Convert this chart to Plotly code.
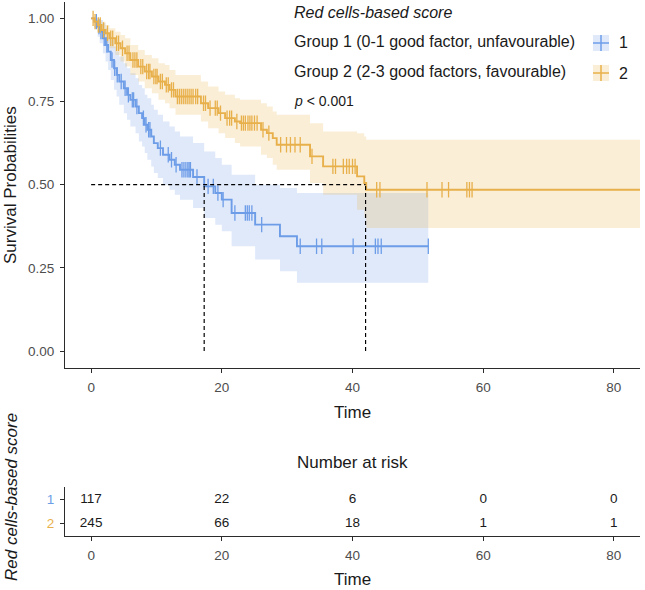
import numpy as np
import plotly.graph_objects as go

# ---------------- data ----------------
# Group 1 (blue) KM step function
g1_time = [0, 0.5, 1.0, 1.3, 1.8, 2.2, 2.6, 3.0, 3.5, 3.9, 4.3, 5.0, 5.5, 6.0, 6.8, 7.3, 7.8, 8.2, 8.6,
           9.2, 9.6, 10.2, 11.0, 12.0, 12.8, 13.6, 15.6, 17.3, 19.0, 20.0, 21.5, 25.1, 28.9, 31.5, 51.6]
g1_surv = [1.0, 0.99, 0.975, 0.96, 0.94, 0.92, 0.90, 0.875, 0.85, 0.83, 0.81, 0.79, 0.77, 0.755, 0.735,
           0.715, 0.70, 0.68, 0.665, 0.645, 0.625, 0.61, 0.59, 0.575, 0.56, 0.545, 0.523, 0.495, 0.475,
           0.455, 0.415, 0.38, 0.345, 0.315, 0.315]
g1_lower = [1.0, 0.97, 0.945, 0.925, 0.895, 0.87, 0.845, 0.815, 0.785, 0.765, 0.74, 0.715, 0.695, 0.675,
            0.655, 0.63, 0.615, 0.595, 0.575, 0.555, 0.535, 0.52, 0.50, 0.485, 0.47, 0.455, 0.43, 0.40,
            0.38, 0.36, 0.315, 0.275, 0.24, 0.205, 0.205]
g1_upper = [1.0, 1.0, 1.0, 0.995, 0.985, 0.97, 0.955, 0.935, 0.915, 0.90, 0.885, 0.865, 0.85, 0.835,
            0.82, 0.80, 0.79, 0.77, 0.76, 0.74, 0.725, 0.71, 0.69, 0.675, 0.66, 0.645, 0.625, 0.60, 0.58,
            0.56, 0.53, 0.50, 0.49, 0.475, 0.475]
g1_censor = [0.8, 1.2, 1.5, 2.0, 2.4, 3.2, 3.6, 4.0, 4.6, 5.2, 5.7, 6.3, 6.5, 7.0, 8.0, 8.4, 8.8, 9.0,
             10.6, 11.8, 12.3, 13.0, 13.9, 14.2, 14.5, 14.8, 15.0, 15.2, 16.2, 17.9, 18.7, 19.4, 20.2,
             22.0, 23.6, 23.9, 24.2, 24.6, 26.1, 32.0, 34.5, 35.3, 40.1, 43.5, 43.9, 44.4, 51.6]

# Group 2 (orange) KM step function
g2_time = [0, 0.5, 1.0, 1.6, 2.2, 2.8, 3.7, 4.5, 5.2, 6.0, 7.2, 8.2, 9.3, 10.3, 11.3, 12.0, 12.9, 16.8,
           17.9, 19.5, 20.5, 22.0, 22.8, 26.0, 26.9, 27.8, 28.4, 33.5, 35.5, 40.7, 41.8, 42.1, 84.0]
g2_surv = [1.0, 0.99, 0.98, 0.965, 0.955, 0.94, 0.925, 0.91, 0.895, 0.875, 0.855, 0.84, 0.825, 0.81,
           0.80, 0.785, 0.765, 0.745, 0.73, 0.715, 0.70, 0.69, 0.685, 0.665, 0.655, 0.64, 0.62, 0.585,
           0.555, 0.525, 0.505, 0.485, 0.485]
g2_lower = [1.0, 0.975, 0.96, 0.94, 0.925, 0.91, 0.89, 0.87, 0.855, 0.83, 0.81, 0.79, 0.775, 0.755,
            0.745, 0.73, 0.71, 0.69, 0.67, 0.655, 0.64, 0.625, 0.615, 0.59, 0.58, 0.56, 0.545, 0.505,
            0.47, 0.425, 0.40, 0.37, 0.37]
g2_upper = [1.0, 1.0, 0.995, 0.99, 0.98, 0.97, 0.96, 0.95, 0.94, 0.92, 0.905, 0.89, 0.88, 0.865, 0.86,
            0.845, 0.83, 0.81, 0.795, 0.78, 0.77, 0.76, 0.755, 0.745, 0.735, 0.72, 0.71, 0.685, 0.66,
            0.655, 0.645, 0.635, 0.635]
g2_censor = [0.3, 0.6, 1.1, 1.4, 1.9, 2.5, 3.0, 3.3, 3.9, 4.2, 4.8, 5.5, 5.8, 6.4, 6.7, 7.0, 7.6, 7.9,
             8.5, 8.8, 9.0, 9.6, 9.9, 10.1, 10.6, 10.9, 11.5, 11.8, 12.3, 12.6, 13.2, 13.5, 13.8, 14.1,
             14.4, 14.7, 15.0, 15.3, 15.6, 16.0, 16.3, 17.2, 17.5, 18.2, 19.0, 19.3, 19.8, 20.8, 21.2,
             21.5, 22.3, 23.0, 23.3, 23.6, 24.0, 24.3, 24.6, 25.0, 25.4, 26.3, 27.2, 29.0, 29.9, 30.5,
             31.2, 32.0, 33.8, 37.0, 37.4, 38.6, 39.1, 39.5, 40.0, 40.4, 43.7, 44.2, 51.4, 53.7, 54.7,
             57.5, 57.9, 58.3]

median_times = [17.3, 42.0]
median_level = 0.5

risk_times = [0, 20, 40, 60, 80]
risk_g1 = [117, 22, 6, 0, 0]
risk_g2 = [245, 66, 18, 1, 1]

group_labels = ["1", "2"]
group_desc = ["Group 1 (0-1 good factor, unfavourable)", "Group 2 (2-3 good factors, favourable)"]
legend_title = "Red cells-based score"
p_text = "<i>p</i> < 0.001"
x_ticks = [0, 20, 40, 60, 80]
y_ticks = [0, 0.25, 0.5, 0.75, 1.0]

# ---------------- style ----------------
BLUE = "#6E9DE8"
ORANGE = "#E8B04B"
BLUE_FILL = "rgba(110,157,232,0.22)"
ORANGE_FILL = "rgba(232,176,75,0.22)"
FONT = "Liberation Sans"
W, H = 645, 590


def px_x(p):
    return p / W


def px_y(p):
    return 1 - p / H


fig = go.Figure()


def add_band(times, lo, hi, fill):
    fig.add_trace(go.Scatter(x=times, y=lo, mode="lines", line=dict(width=0, shape="hv"),
                             hoverinfo="skip", showlegend=False, xaxis="x", yaxis="y"))
    fig.add_trace(go.Scatter(x=times, y=hi, mode="lines", line=dict(width=0, shape="hv"),
                             fill="tonexty", fillcolor=fill, hoverinfo="skip",
                             showlegend=False, xaxis="x", yaxis="y"))


def add_line(times, surv, cens, color, name):
    fig.add_trace(go.Scatter(x=times, y=surv, mode="lines", line=dict(color=color, width=1.9, shape="hv"),
                             name=name, showlegend=False, xaxis="x", yaxis="y"))
    t = np.array(times)
    s = np.array(surv)
    idx = np.searchsorted(t, np.array(cens), side="right") - 1
    fig.add_trace(go.Scatter(x=cens, y=s[idx], mode="markers",
                             marker=dict(symbol="line-ns-open", size=11, color=color,
                                         line=dict(color=color, width=1.3)),
                             showlegend=False, hoverinfo="skip", xaxis="x", yaxis="y"))


add_band(g1_time, g1_lower, g1_upper, BLUE_FILL)
add_band(g2_time, g2_lower, g2_upper, ORANGE_FILL)
add_line(g1_time, g1_surv, g1_censor, BLUE, "1")
add_line(g2_time, g2_surv, g2_censor, ORANGE, "2")

# median dashed lines
fig.add_trace(go.Scatter(x=[0, max(median_times)], y=[median_level, median_level], mode="lines",
                         line=dict(color="black", width=1.2, dash="4px,3px"), showlegend=False,
                         hoverinfo="skip", xaxis="x", yaxis="y"))
for mt in median_times:
    fig.add_trace(go.Scatter(x=[mt, mt], y=[0, median_level], mode="lines",
                             line=dict(color="black", width=1.2, dash="4px,3px"), showlegend=False,
                             hoverinfo="skip", xaxis="x", yaxis="y"))

# risk table
for gi, counts in enumerate([risk_g1, risk_g2]):
    fig.add_trace(go.Scatter(x=risk_times, y=[gi + 1] * len(risk_times), mode="text",
                             text=[str(c) for c in counts],
                             textfont=dict(family=FONT, size=13.5, color="#1a1a1a"),
                             showlegend=False, hoverinfo="skip", xaxis="x2", yaxis="y2"))

axis_common = dict(showline=True, linecolor="#2b2b2b", linewidth=1, ticks="outside", ticklen=4,
                   tickwidth=1, tickcolor="#2b2b2b", showgrid=False, zeroline=False,
                   ticklabelstandoff=3,
                   tickfont=dict(family=FONT, size=13.5, color="#4d4d4d"))

fig.update_layout(
    width=W, height=H,
    margin=dict(l=0, r=0, t=0, b=0, autoexpand=False),
    plot_bgcolor="white", paper_bgcolor="white",
    showlegend=False,
    xaxis=dict(domain=[px_x(65), px_x(640)], range=[-4, 84], tickvals=x_ticks,
               anchor="y", **axis_common),
    yaxis=dict(domain=[px_y(367.7), px_y(1.7)], range=[-0.05, 1.05], tickvals=y_ticks,
               tickformat=".2f", anchor="x", **axis_common),
    xaxis2=dict(domain=[px_x(65), px_x(640)], range=[-4, 84], tickvals=x_ticks,
                anchor="y2", **axis_common),
    yaxis2=dict(domain=[px_y(536), px_y(487)], range=[2.5, 0.5], tickvals=[1, 2],
                ticktext=[f"<span style='color:{BLUE}'>{group_labels[0]}</span>",
                          f"<span style='color:{ORANGE}'>{group_labels[1]}</span>"],
                anchor="x2", **axis_common),
)

ann_font = dict(family=FONT, size=16, color="#1a1a1a")
annotations = [
    dict(text=f"<i>{legend_title}</i>", x=px_x(292), y=px_y(13), xanchor="left", yanchor="middle",
         font=ann_font),
    dict(text=group_desc[0], x=px_x(292), y=px_y(42), xanchor="left", yanchor="middle", font=ann_font),
    dict(text=group_desc[1], x=px_x(292), y=px_y(71), xanchor="left", yanchor="middle", font=ann_font),
    dict(text=p_text, x=px_x(292), y=px_y(101), xanchor="left", yanchor="middle",
         font=dict(family=FONT, size=14, color="#1a1a1a")),
    dict(text=group_labels[0], x=px_x(617), y=px_y(43), xanchor="left", yanchor="middle", font=ann_font),
    dict(text=group_labels[1], x=px_x(617), y=px_y(73), xanchor="left", yanchor="middle", font=ann_font),
    dict(text="Survival Probabilities", x=px_x(10), y=px_y(185), textangle=-90, xanchor="center",
         yanchor="middle", font=dict(family=FONT, size=17, color="#1a1a1a")),
    dict(text="Time", x=px_x(352.5), y=px_y(412), xanchor="center", yanchor="middle",
         font=dict(family=FONT, size=17, color="#1a1a1a")),
    dict(text="Number at risk", x=px_x(352.5), y=px_y(462), xanchor="center", yanchor="middle",
         font=dict(family=FONT, size=17, color="#1a1a1a")),
    dict(text="Time", x=px_x(352.5), y=px_y(579), xanchor="center", yanchor="middle",
         font=dict(family=FONT, size=17, color="#1a1a1a")),
    dict(text=f"<i>{legend_title}</i>", x=px_x(11), y=px_y(497), textangle=-90, xanchor="center",
         yanchor="middle", font=dict(family=FONT, size=17, color="#1a1a1a")),
]
for a in annotations:
    a.update(xref="paper", yref="paper", showarrow=False)
fig.update_layout(annotations=annotations)

# legend keys
shapes = []
for cy, col, fill in [(43, BLUE, BLUE_FILL), (73, ORANGE, ORANGE_FILL)]:
    shapes.append(dict(type="rect", xref="paper", yref="paper", x0=px_x(593), x1=px_x(609),
                       y0=px_y(cy + 8), y1=px_y(cy - 8), fillcolor=fill, line=dict(width=0)))
    shapes.append(dict(type="line", xref="paper", yref="paper", x0=px_x(601), x1=px_x(601),
                       y0=px_y(cy + 8), y1=px_y(cy - 8), line=dict(color=col, width=1.5)))
    shapes.append(dict(type="line", xref="paper", yref="paper", x0=px_x(593), x1=px_x(609),
                       y0=px_y(cy), y1=px_y(cy), line=dict(color=col, width=1.5)))
fig.update_layout(shapes=shapes)

fig.write_html("out.html", config={"displayModeBar": False},
               post_script="document.body.style.margin='0px';document.body.style.overflow='hidden';")
